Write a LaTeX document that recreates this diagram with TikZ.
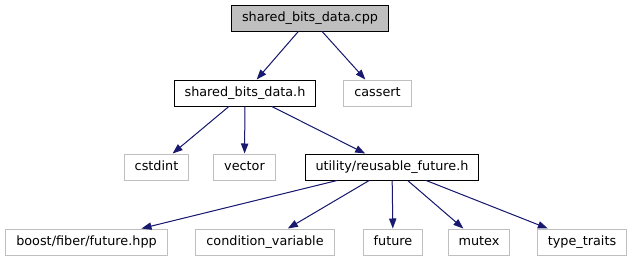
\documentclass[tikz,border=0pt]{standalone}
\usepackage{fontspec}
\setmainfont{DejaVu Sans}
\usetikzlibrary{arrows.meta}
\definecolor{edgeblue}{HTML}{191970}
\definecolor{rootgray}{HTML}{BFBFBF}

\begin{document}
\begin{tikzpicture}[
  x=0.75pt, y=-0.75pt,
  file/.style={rectangle, draw, line width=0.75pt, font=\fontsize{9.6}{11}\selectfont,
    inner xsep=7.8pt, text height=7.2pt, text depth=2.3pt, minimum height=19.5pt},
  root/.style={file, fill=rootgray},
  sys/.style={file, draw=rootgray},
  arrow/.style={-{Triangle[length=7.5pt,width=5.5pt]}, draw=edgeblue, fill=edgeblue, line width=0.75pt}
]
\useasboundingbox[fill=white] (0,0) rectangle (631,261);

\node[root] (cpp) at (310,18) {shared\_bits\_data.cpp};

\node[file] (hdr) at (245,93) {shared\_bits\_data.h};
\node[sys] (cassert) at (377.5,93) {cassert};

\node[sys] (cstdint) at (156.5,167) {cstdint};
\node[sys] (vector) at (244.5,167) {vector};
\node[file] (future_h) at (392,167) {utility/reusable\_future.h};

\node[sys] (boost) at (86.5,242) {boost/fiber/future.hpp};
\node[sys] (condvar) at (265,242) {condition\_variable};
\node[sys] (future) at (393,242) {future};
\node[sys] (mutex) at (479,242) {mutex};
\node[sys] (traits) at (582,242) {type\_traits};

% includes of the source file
\draw[arrow] (cpp) -- (hdr);
\draw[arrow] (cpp) -- (cassert);

% includes of the header
\draw[arrow] (hdr) -- (cstdint);
\draw[arrow] (hdr) -- (vector);
\draw[arrow] (hdr) -- (future_h);

% includes of reusable_future.h
\draw[arrow] (future_h) -- (boost);
\draw[arrow] (future_h) -- (condvar);
\draw[arrow] (future_h) -- (future);
\draw[arrow] (future_h) -- (mutex);
\draw[arrow] (future_h) -- (traits);

\end{tikzpicture}
\end{document}
